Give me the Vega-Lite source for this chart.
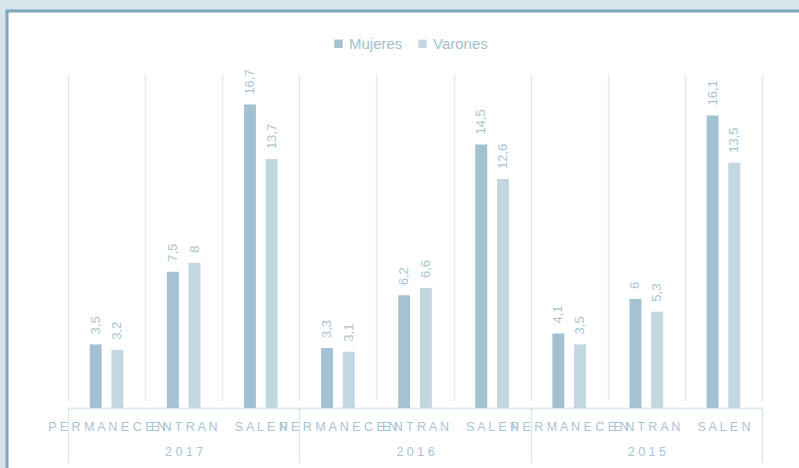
{
  "$schema": "https://vega.github.io/schema/vega-lite/v6.json",
  "width": 800,
  "height": 460,
  "autosize": {"type": "none"},
  "padding": {"left": 7, "top": 11, "right": 0, "bottom": 0},
  "background": "#d7e4ea",
  "config": {
    "view": {"fill": "white", "stroke": "#7ea5b9", "strokeWidth": 3},
    "locale": {"number": {"decimal": ",", "thousands": ".", "grouping": [3], "currency": ["", " €"]}},
    "font": "Liberation Sans"
  },
  "data": {
    "values": [
      {"key": "2017|PERMANECEN", "year": "2017", "cat": "PERMANECEN", "sexo": "Mujeres", "valor": 3.5},
      {"key": "2017|PERMANECEN", "year": "2017", "cat": "PERMANECEN", "sexo": "Varones", "valor": 3.2},
      {"key": "2017|ENTRAN", "year": "2017", "cat": "ENTRAN", "sexo": "Mujeres", "valor": 7.5},
      {"key": "2017|ENTRAN", "year": "2017", "cat": "ENTRAN", "sexo": "Varones", "valor": 8},
      {"key": "2017|SALEN", "year": "2017", "cat": "SALEN", "sexo": "Mujeres", "valor": 16.7},
      {"key": "2017|SALEN", "year": "2017", "cat": "SALEN", "sexo": "Varones", "valor": 13.7},
      {"key": "2016|PERMANECEN", "year": "2016", "cat": "PERMANECEN", "sexo": "Mujeres", "valor": 3.3},
      {"key": "2016|PERMANECEN", "year": "2016", "cat": "PERMANECEN", "sexo": "Varones", "valor": 3.1},
      {"key": "2016|ENTRAN", "year": "2016", "cat": "ENTRAN", "sexo": "Mujeres", "valor": 6.2},
      {"key": "2016|ENTRAN", "year": "2016", "cat": "ENTRAN", "sexo": "Varones", "valor": 6.6},
      {"key": "2016|SALEN", "year": "2016", "cat": "SALEN", "sexo": "Mujeres", "valor": 14.5},
      {"key": "2016|SALEN", "year": "2016", "cat": "SALEN", "sexo": "Varones", "valor": 12.6},
      {"key": "2015|PERMANECEN", "year": "2015", "cat": "PERMANECEN", "sexo": "Mujeres", "valor": 4.1},
      {"key": "2015|PERMANECEN", "year": "2015", "cat": "PERMANECEN", "sexo": "Varones", "valor": 3.5},
      {"key": "2015|ENTRAN", "year": "2015", "cat": "ENTRAN", "sexo": "Mujeres", "valor": 6},
      {"key": "2015|ENTRAN", "year": "2015", "cat": "ENTRAN", "sexo": "Varones", "valor": 5.3},
      {"key": "2015|SALEN", "year": "2015", "cat": "SALEN", "sexo": "Mujeres", "valor": 16.1},
      {"key": "2015|SALEN", "year": "2015", "cat": "SALEN", "sexo": "Varones", "valor": 13.5}
    ]
  },
  "layer": [
    {
      "encoding": {
        "x": {
          "field": "key", "type": "nominal", "sort": null,
          "scale": {"range": [61, 755], "paddingInner": 0, "paddingOuter": 0},
          "axis": {
            "title": null, "orient": "bottom", "offset": -63,
            "labelExpr": "indexof(datum.label + '', '|') >= 0 ? join(split(split(datum.label, '|')[1], ''), ' ') : ''",
            "labelAngle": 0, "labelFontSize": 12.5, "labelColor": "#a9c4d3",
            "labelPadding": 12, "ticks": false, "grid": true, "tickBand": "extent",
            "gridColor": "#e2ebf0", "gridWidth": 1.5,
            "domainColor": "#dde7ee", "domainWidth": 2,
            "labelOverlap": false, "labelLimit": 0
          }
        },
        "xOffset": {
          "field": "sexo", "type": "nominal",
          "scale": {"paddingInner": 0.45, "paddingOuter": 1.15}
        },
        "y": {
          "field": "valor", "type": "quantitative",
          "scale": {"domain": [0, 18], "range": [397, 70], "nice": false},
          "axis": null
        }
      },
      "layer": [
        {
          "mark": {"type": "bar"},
          "encoding": {
            "color": {
              "field": "sexo", "type": "nominal",
              "scale": {"domain": ["Mujeres", "Varones"], "range": ["#a3c1d0", "#c3d7e0"]},
              "legend": {
                "title": null, "orient": "none", "direction": "horizontal",
                "legendX": 324, "legendY": 25, "padding": 0,
                "symbolType": "square", "symbolSize": 70, "symbolStrokeWidth": 0,
                "labelFontSize": 15, "labelColor": "#a3bfcf", "labelOffset": 3,
                "columnPadding": 12, "labelFont": "Liberation Sans"
              }
            }
          }
        },
        {
          "mark": {"type": "text", "angle": 270, "align": "left", "baseline": "middle", "dx": 10, "fontSize": 13, "color": "#a9c4d3"},
          "encoding": {
            "text": {"field": "valor", "type": "quantitative", "format": "~g"}
          }
        }
      ]
    },
    {
      "mark": {"type": "rule", "opacity": 0},
      "encoding": {
        "x": {
          "field": "year", "type": "nominal", "sort": null,
          "scale": {"range": [61, 755], "paddingInner": 0, "paddingOuter": 0},
          "axis": {
            "title": null, "orient": "bottom", "offset": -63,
            "labelExpr": "indexof('201520162017', datum.label + '') >= 0 ? join(split(datum.label, ''), ' ') : ''",
            "labelAngle": 0, "labelFontSize": 12.5, "labelColor": "#a9c4d3",
            "ticks": true, "tickBand": "extent", "tickSize": 54, "tickColor": "#dde7ee", "tickWidth": 1.5,
            "labelPadding": -17, "domain": false, "grid": false
          }
        }
      }
    }
  ],
  "resolve": {"scale": {"x": "independent"}, "axis": {"x": "independent"}}
}
